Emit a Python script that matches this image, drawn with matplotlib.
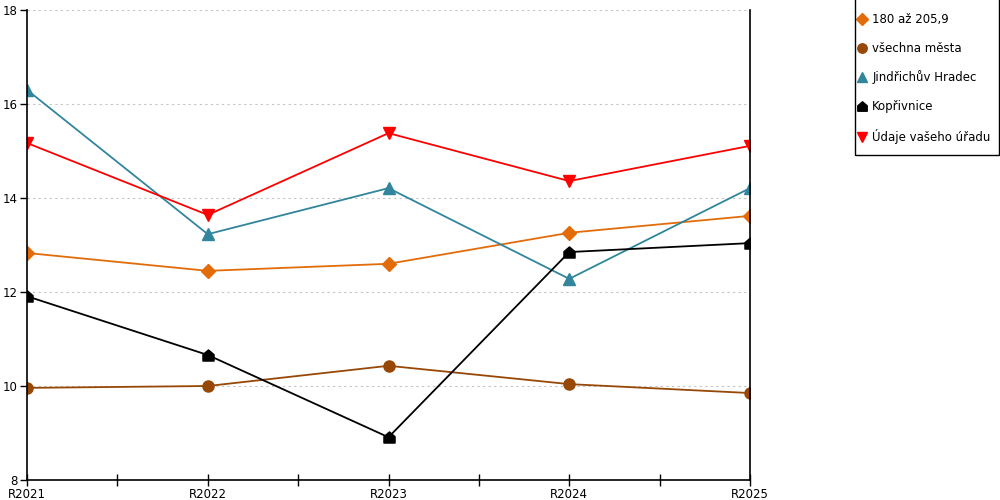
import numpy as np
import matplotlib
matplotlib.use("Agg")
import matplotlib.pyplot as plt
from matplotlib.path import Path
from matplotlib.patches import Rectangle

# data
roky = ["R2021", "R2022", "R2023", "R2024", "R2025"]
skupina = [12.83, 12.45, 12.60, 13.26, 13.62]
vsechna_mesta = [9.96, 10.00, 10.43, 10.04, 9.85]
jindrichuv_hradec = [16.30, 13.23, 14.21, 12.28, 14.21]
koprivnice = [11.91, 10.66, 8.91, 12.85, 13.04]
vas_urad = [15.17, 13.64, 15.38, 14.36, 15.11]

# marker "domecek" pro Kopřivnici
domek = Path([(-1, -1), (1, -1), (1, 0.15), (0, 1), (-1, 0.15), (-1, -1)],
             [Path.MOVETO, Path.LINETO, Path.LINETO, Path.LINETO, Path.LINETO, Path.CLOSEPOLY])

plt.rcParams['font.family'] = ['DejaVu Sans']
fig = plt.figure(figsize=(10, 5), dpi=100)
ax = fig.add_axes([0.027, 0.04, 0.723, 0.94])

x = np.arange(len(roky))
ax.plot(x, skupina, color="#E36C0A", lw=1.3, marker="D", ms=7, label="180 až 205,9")
ax.plot(x, vsechna_mesta, color="#974806", lw=1.3, marker="o", ms=8, label="všechna města")
ax.plot(x, jindrichuv_hradec, color="#31859C", lw=1.3, marker="^", ms=8.5, label="Jindřichův Hradec")
ax.plot(x, koprivnice, color="black", lw=1.3, marker=domek, ms=8, label="Kopřivnice")
ax.plot(x, vas_urad, color="#FF0000", lw=1.3, marker="v", ms=8.5, label="Údaje vašeho úřadu")

ax.set_xlim(0, len(roky) - 1)
ax.set_ylim(8, 18)
ax.set_xticks(x)
ax.set_xticklabels(roky)
ax.set_xticks(x[:-1] + 0.5, minor=True)
ax.set_yticks([8, 10, 12, 14, 16, 18])
ax.tick_params(axis="x", which="both", direction="inout", length=9, width=1, labelsize=8.5, pad=1)
ax.tick_params(axis="y", direction="out", length=5, width=1, labelsize=8.5, pad=2)

for g in [10, 12, 14, 16, 18]:
    ax.axhline(g, color="#C4C4C4", lw=0.8, ls=(0, (2, 3)), zorder=0)

ax.spines["top"].set_visible(False)
for s in ["left", "bottom", "right"]:
    ax.spines[s].set_linewidth(1.2)
    ax.spines[s].set_color("black")

# legenda vpravo nahore s rameckem
leg = ax.legend(loc="upper left", bbox_to_anchor=(0.848, 0.993), bbox_transform=fig.transFigure,
                handlelength=0.8, handletextpad=0.45, labelspacing=1.33, borderpad=0.3,
                fontsize=8.5, frameon=False, markerscale=0.85)
for h in leg.get_lines():
    h.set_linestyle("none")
fig.patches.append(Rectangle((0.8545, 0.69), 0.144, 0.32, transform=fig.transFigure,
                             fill=False, edgecolor="black", lw=1.0))

fig.savefig("out.png", dpi=100)
